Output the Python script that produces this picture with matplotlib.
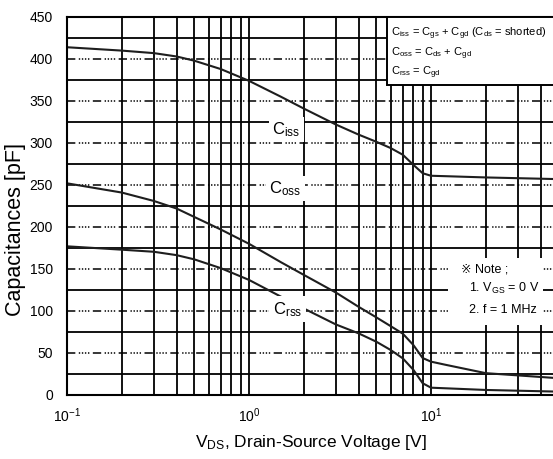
import numpy as np
import matplotlib.pyplot as plt
from matplotlib.patches import Rectangle
from matplotlib.ticker import FixedLocator, LogLocator, MultipleLocator, NullFormatter

plt.rcParams['font.family'] = ['Liberation Sans', 'DejaVu Sans']
plt.rcParams['mathtext.fontset'] = 'custom'
plt.rcParams['mathtext.rm'] = 'Liberation Sans'
plt.rcParams['mathtext.default'] = 'regular'
plt.rcParams['lines.scale_dashes'] = False

# Drain-source voltage [V] and capacitances [pF]
vds = [0.1, 0.2, 0.3, 0.4, 0.5, 0.7, 1.0, 1.5, 2, 3, 4, 5, 6, 7, 8, 9, 10, 12, 20, 50]
ciss = [414, 410, 407, 403, 398, 388, 374, 355, 341, 322, 310, 301.5, 294, 286, 274, 264,
        261, 260.5, 259, 257]
coss = [252, 241, 231, 222, 212, 197, 180, 158, 143, 122, 105, 92.5, 82, 73, 59.5, 44,
        39.7, 36, 26, 20]
crss = [177, 173, 170.5, 166.5, 161.5, 151, 137, 117, 103, 84, 73.4, 63.5, 53.6, 43.6, 30, 14,
        8.7, 8, 6, 4]

x_ticks = [0.1, 1, 10]
curve_labels = ['$C_{iss}$', '$C_{oss}$', '$C_{rss}$']
label_pos = [(1.6, 316), (1.58, 246), (1.63, 102)]

legend_lines = ['$C_{iss}$ = $C_{gs}$ + $C_{gd}$ ($C_{ds}$ = shorted)',
                '$C_{oss}$ = $C_{ds}$ + $C_{gd}$',
                '$C_{rss}$ = $C_{gd}$']
note_lines = ['\u203b Note ;', '1. $V_{GS}$ = 0 V', '2. f = 1 MHz']

W, H = 553, 459


def px(x, y):
    # pixel position (from top-left) to figure fraction
    return x / W, 1 - y / H


fig = plt.figure(figsize=(W / 100, H / 100), dpi=100)
ax = fig.add_axes([67 / W, 64 / H, 546 / W, 378 / H])

ax.set_xscale('log')
ax.set_xlim(0.1, 100)
ax.set_ylim(0, 450)
ax.xaxis.set_major_locator(FixedLocator(x_ticks))
ax.xaxis.set_minor_locator(LogLocator(base=10, subs=np.arange(2, 10)))
ax.xaxis.set_minor_formatter(NullFormatter())
ax.yaxis.set_major_locator(MultipleLocator(50))
ax.yaxis.set_minor_locator(MultipleLocator(25))

ax.set_axisbelow(True)
ax.grid(which='both', axis='x', color='black', lw=1.3)
ax.grid(which='major', axis='y', color='black', lw=1.1,
        linestyle=(0, (6, 2.5, 1, 1.2, 1, 1.2, 1, 1.2, 1, 2.5)))
ax.grid(which='minor', axis='y', color='black', lw=1.3)

for c in (ciss, coss, crss):
    ax.plot(vds, c, color='#1e1e1e', lw=1.5, zorder=2)

for lab, (x, y) in zip(curve_labels, label_pos):
    ax.text(x, y, lab, ha='center', va='center', fontsize=12, zorder=3,
            bbox=dict(fc='white', ec='none', pad=2.5))

for s in ax.spines.values():
    s.set_linewidth(1.5)

ax.tick_params(which='both', direction='in', length=0, labelsize=10)
ax.tick_params(axis='y', pad=10)
ax.tick_params(axis='x', pad=8)

ax.set_xlabel('$V_{DS}$, Drain-Source Voltage [V]', fontsize=12.5)
ax.xaxis.set_label_coords((311 - 67) / 546, (395 - 433) / 378)
ax.set_ylabel('Capacitances [pF]', fontsize=15.5)
ax.yaxis.set_label_coords((26 - 67) / 546, (395 - 230) / 378)

# formula box at the top right
x0, y0 = px(387, 85)
ax.add_patch(Rectangle((x0, y0), 0.5, (85 - 17) / H, transform=fig.transFigure,
                       fc='white', ec='black', lw=1.4, zorder=4, clip_on=False))
for line, yb in zip(legend_lines, [36, 56, 75]):
    fig.text(*px(391, yb), line, fontsize=8, va='baseline', ha='left', zorder=5)

# test conditions note
x1, y1 = px(448, 325)
ax.add_patch(Rectangle((x1, y1), 95 / W, 67 / H, transform=fig.transFigure,
                       fc='white', ec='none', zorder=4, clip_on=False))
fig.text(*px(461, 273), note_lines[0], fontsize=9, va='baseline', ha='left', zorder=5)
fig.text(*px(469, 292), note_lines[1], fontsize=9, va='baseline', ha='left', zorder=5)
fig.text(*px(469, 313), note_lines[2], fontsize=9, va='baseline', ha='left', zorder=5)

fig.savefig('out.png', dpi=100)
